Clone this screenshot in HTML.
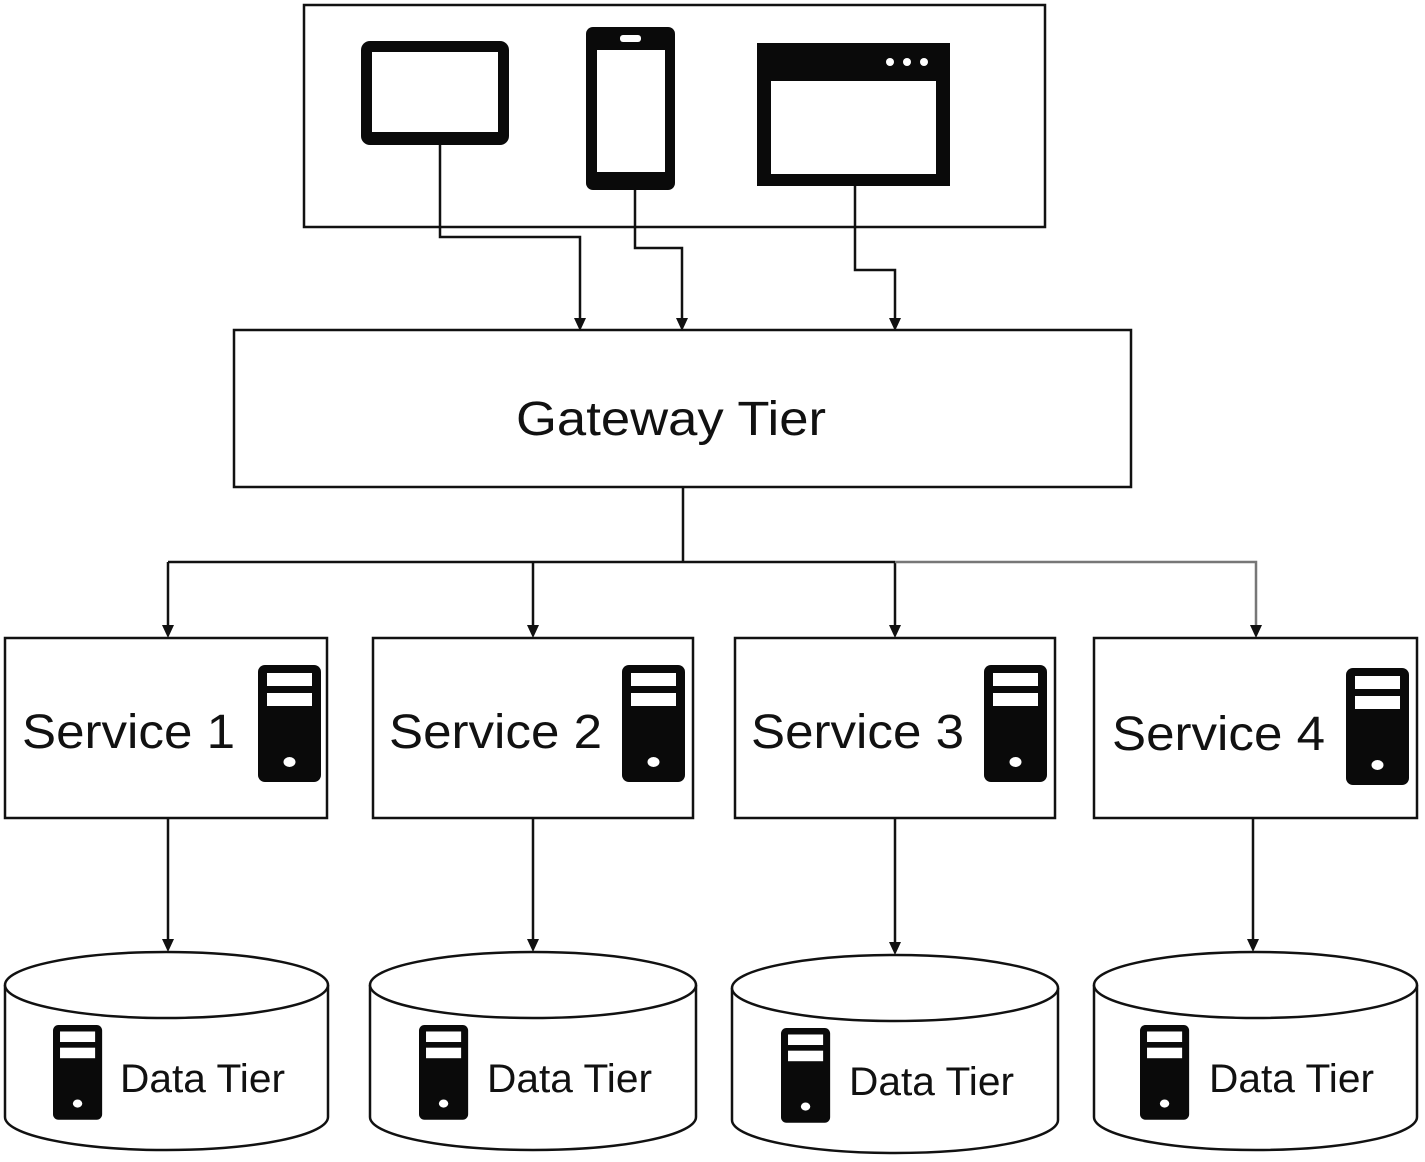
<!DOCTYPE html>
<html><head><meta charset="utf-8"><style>html,body{margin:0;padding:0;background:#fff}svg{display:block}</style></head>
<body>
<svg width="1425" height="1162" viewBox="0 0 1425 1162" xmlns="http://www.w3.org/2000/svg" font-family="Liberation Sans, sans-serif">
<defs>
<path id="ar" d="M-6,-13 L6,-13 L0,0 Z" fill="#111"/>
<g id="srv">
<rect x="0" y="0" width="63" height="117" rx="7" fill="#0a0a0a"/>
<rect x="9" y="8" width="45" height="13" fill="#fff"/>
<rect x="9" y="28" width="45" height="13" fill="#fff"/>
<ellipse cx="31.5" cy="97" rx="6" ry="5" fill="#fff"/>
</g>
</defs>
<g fill="none" stroke="#111" stroke-width="2.5">
<rect x="304" y="5" width="741" height="222"/>
<rect x="234" y="330" width="897" height="157"/>
<rect x="5" y="638" width="322" height="180"/>
<rect x="373" y="638" width="320" height="180"/>
<rect x="735" y="638" width="320" height="180"/>
<rect x="1094" y="638" width="323" height="180"/>
</g>
<!-- devices -->
<rect x="361" y="41" width="148" height="104" rx="9" fill="#0a0a0a"/>
<rect x="372" y="52" width="126" height="80" fill="#fff"/>
<rect x="586" y="27" width="89" height="163" rx="7" fill="#0a0a0a"/>
<rect x="597" y="50" width="68" height="122" fill="#fff"/>
<rect x="620" y="35" width="21" height="7" rx="3" fill="#fff"/>
<rect x="757" y="43" width="193" height="143" fill="#0a0a0a"/>
<rect x="771" y="81" width="165" height="93" fill="#fff"/>
<circle cx="890" cy="62" r="4" fill="#fff"/><circle cx="907" cy="62" r="4" fill="#fff"/><circle cx="924" cy="62" r="4" fill="#fff"/>
<!-- connectors -->
<g fill="none" stroke="#111" stroke-width="2.5">
<path d="M440,145 V237 H580 V320"/>
<path d="M635,190 V248 H682 V320"/>
<path d="M855,186 V270 H895 V320"/>
<path d="M683,487 V562"/>
<path d="M168,562 H895"/>
<path d="M168,562 V627"/>
<path d="M533,562 V627"/>
<path d="M895,562 V627"/>
<path d="M895,562 H1256 V627" stroke="#777"/>
<path d="M168,818 V940"/>
<path d="M533,818 V940"/>
<path d="M895,818 V943"/>
<path d="M1253,818 V940"/>
</g>
<use href="#ar" x="580" y="331"/>
<use href="#ar" x="682" y="331"/>
<use href="#ar" x="895" y="331"/>
<use href="#ar" x="168" y="638"/>
<use href="#ar" x="533" y="638"/>
<use href="#ar" x="895" y="638"/>
<use href="#ar" x="1256" y="638" fill="#666"/>
<use href="#ar" x="168" y="952"/>
<use href="#ar" x="533" y="952"/>
<use href="#ar" x="895" y="955"/>
<use href="#ar" x="1253" y="952"/>
<text x="516" y="435" font-size="48" textLength="310" lengthAdjust="spacingAndGlyphs" fill="#111">Gateway Tier</text>
<g font-size="48" fill="#111">
<text x="22" y="748" textLength="213" lengthAdjust="spacingAndGlyphs">Service 1</text>
<text x="389" y="748" textLength="213" lengthAdjust="spacingAndGlyphs">Service 2</text>
<text x="751" y="748" textLength="213" lengthAdjust="spacingAndGlyphs">Service 3</text>
<text x="1112" y="750" textLength="213" lengthAdjust="spacingAndGlyphs">Service 4</text>
</g>
<use href="#srv" x="258" y="665"/>
<use href="#srv" x="622" y="665"/>
<use href="#srv" x="984" y="665"/>
<use href="#srv" x="1346" y="668"/>
<!-- cylinders -->
<g fill="#fff" stroke="#111" stroke-width="2.5">
<path d="M5,985 V1117 A161.5,33 0 0 0 328,1117 V985"/>
<ellipse cx="166.5" cy="985" rx="161.5" ry="33"/>
<path d="M370,985 V1117 A163,33 0 0 0 696,1117 V985"/>
<ellipse cx="533" cy="985" rx="163" ry="33"/>
<path d="M732,988 V1120 A163,33 0 0 0 1058,1120 V988"/>
<ellipse cx="895" cy="988" rx="163" ry="33"/>
<path d="M1094,985 V1117 A161.5,33 0 0 0 1417,1117 V985"/>
<ellipse cx="1255.5" cy="985" rx="161.5" ry="33"/>
</g>
<use href="#srv" transform="translate(53,1025) scale(0.78,0.81)"/>
<use href="#srv" transform="translate(419,1025) scale(0.78,0.81)"/>
<use href="#srv" transform="translate(781,1028) scale(0.78,0.81)"/>
<use href="#srv" transform="translate(1140,1025) scale(0.78,0.81)"/>
<g font-size="40" fill="#111">
<text x="120" y="1092" textLength="165" lengthAdjust="spacingAndGlyphs">Data Tier</text>
<text x="487" y="1092" textLength="165" lengthAdjust="spacingAndGlyphs">Data Tier</text>
<text x="849" y="1095" textLength="165" lengthAdjust="spacingAndGlyphs">Data Tier</text>
<text x="1209" y="1092" textLength="165" lengthAdjust="spacingAndGlyphs">Data Tier</text>
</g>
</svg>
</body></html>
